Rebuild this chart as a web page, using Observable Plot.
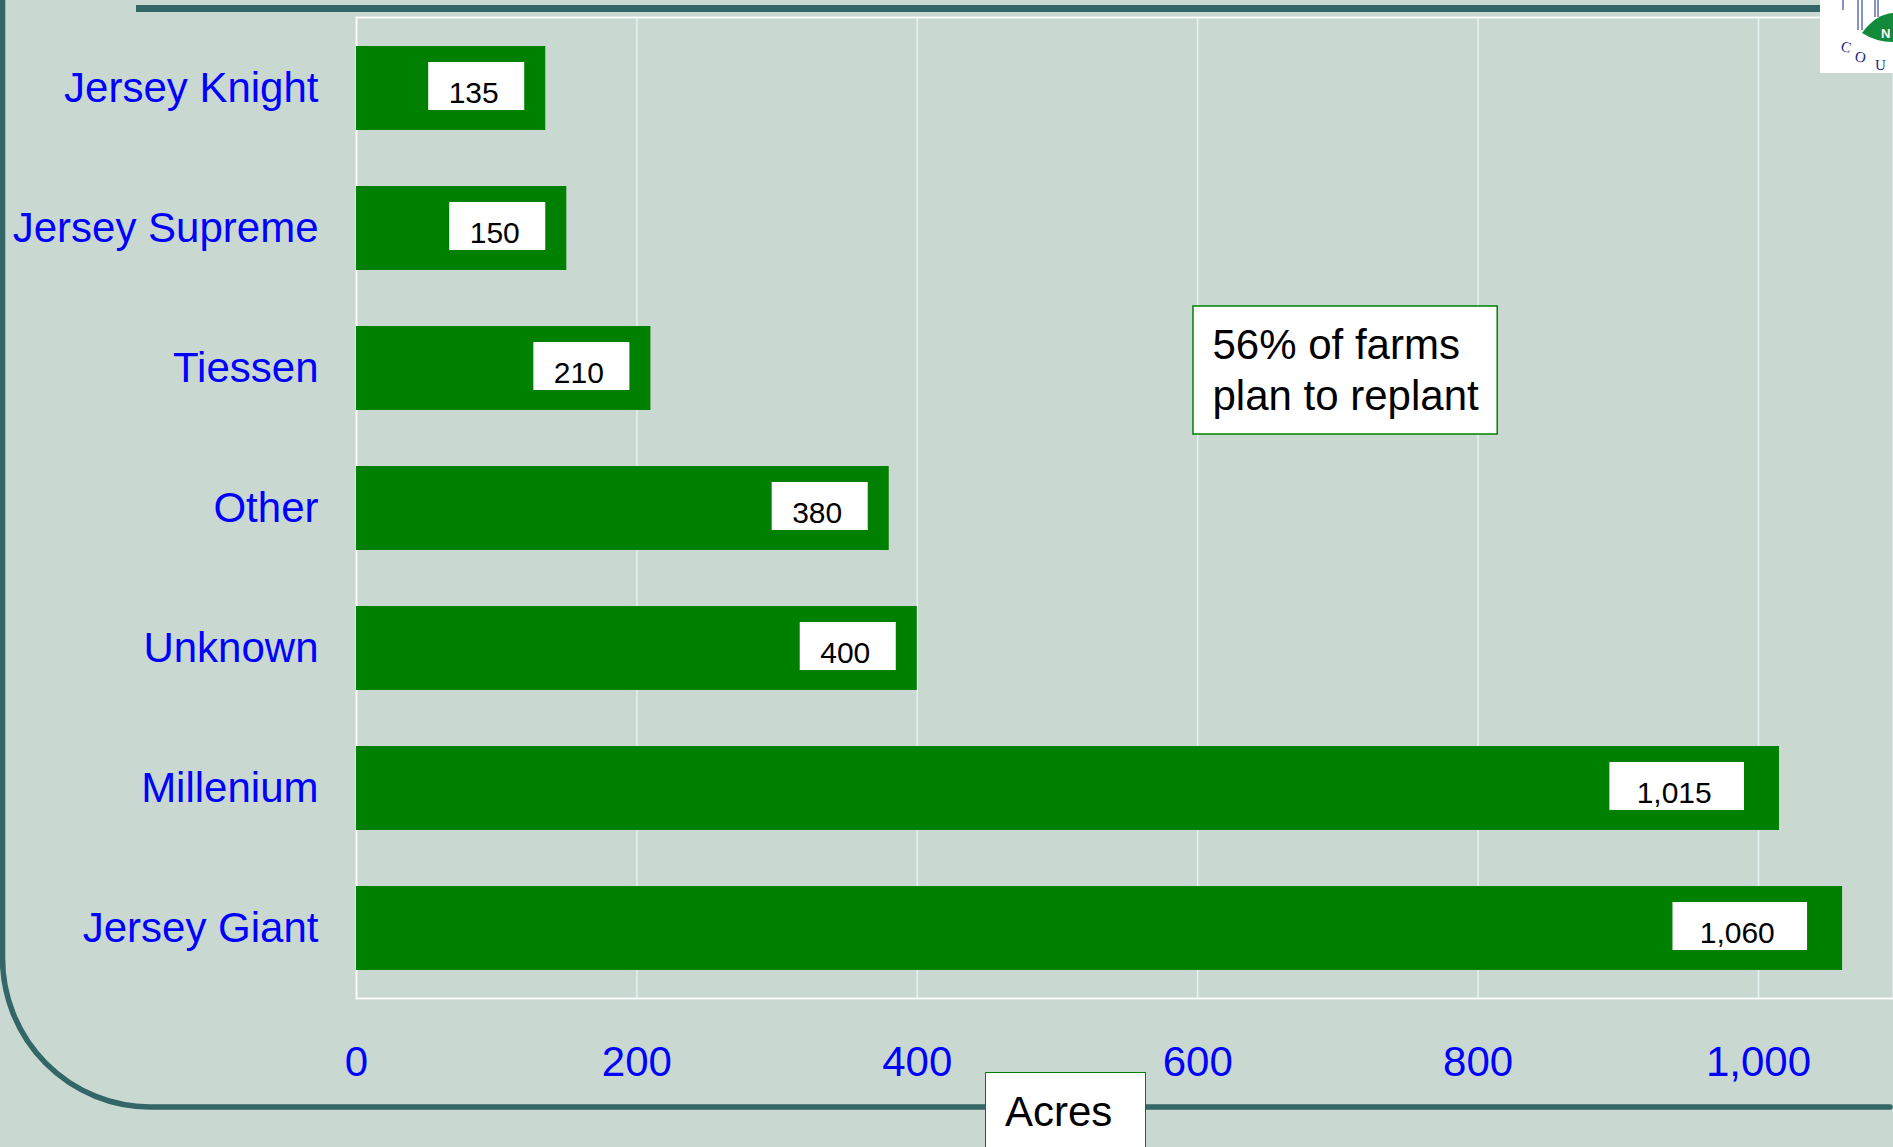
<!DOCTYPE html>
<html>
<head>
<meta charset="utf-8">
<script src="https://cdn.jsdelivr.net/npm/d3@7"></script>
<script src="https://cdn.jsdelivr.net/npm/@observablehq/plot@0.6"></script>
<style>
  html, body { margin: 0; padding: 0; background: #c9d9d2; overflow: hidden; }
  #stage { position: relative; width: 1893px; height: 1147px; font-family: "Liberation Sans", Arial, sans-serif; }
  #deco, #chart, #over { position: absolute; left: 0; top: 0; }
  #acres { position: absolute; left: 985px; top: 1072px; width: 161px; height: 90px; background: #fff;
           border: 1.5px solid #008000; box-sizing: border-box; font-size: 42px; color: #000;
           line-height: 1; }
  #acres span { position: absolute; left: 19px; top: 18px; }
</style>
</head>
<body>
<div id="stage">
  <svg id="deco" width="1893" height="1147">
    <path d="M136 8.5 H1820" stroke="#336666" stroke-width="7" fill="none"/>
    <path d="M2.5 0 V958 A148 149 0 0 0 150 1107 H1890" stroke="#336666" stroke-width="5.5" fill="none" stroke-linecap="round"/>
  </svg>
  <div id="chart"></div>
  <div id="acres"><span id="acresText"></span></div>
  <svg id="over" width="1893" height="80" style="pointer-events:none">
    <rect x="1820" y="0" width="73" height="73" fill="#fff"/>
    <g stroke="#6a78b8" stroke-width="1.6">
      <line x1="1843" y1="0" x2="1843" y2="10"/>
      <line x1="1858" y1="0" x2="1858" y2="30"/>
      <line x1="1862" y1="0" x2="1862" y2="30"/>
      <line x1="1875" y1="0" x2="1875" y2="17"/>
      <line x1="1878" y1="0" x2="1878" y2="17"/>
    </g>
    <path d="M1862 33 Q1876 14 1893 13 L1893 42 Q1876 42 1862 33 Z" fill="#12893b"/>
    <text x="1881" y="38" fill="#fff" font-size="13" font-weight="bold" font-family="Liberation Sans, Arial">N</text>
    <text x="1841" y="52" fill="#1a2a8c" font-size="15" font-family="Liberation Serif, serif" transform="rotate(15 1846 47)">C</text>
    <text x="1855" y="62" fill="#1a2a8c" font-size="15" font-family="Liberation Serif, serif" transform="rotate(10 1860 57)">O</text>
    <text x="1875" y="70" fill="#1a2a8c" font-size="15" font-family="Liberation Serif, serif">U</text>
  </svg>
</div>
<script>
// ---- data ----
const categories = ["Jersey Knight", "Jersey Supreme", "Tiessen", "Other", "Unknown", "Millenium", "Jersey Giant"];
const acres = [135, 150, 210, 380, 400, 1015, 1060];
const xTicks = [0, 200, 400, 600, 800, 1000];
const annotationLines = ["56% of farms", "plan to replant"];
const annotationRow = ["Tiessen"];
const annotationFrom = [597];
const annotationTo = [814];
const axisTitle = "Acres";

// ---- build table ----
const fmt = d3.format(",");
const rows = categories.map((name, i) => ({name, acres: acres[i], label: fmt(acres[i])}));
const note = annotationRow.map((r, i) => ({row: r, x1: annotationFrom[i], x2: annotationTo[i], text: annotationLines.join("\n")}));

// label box geometry (in acre units, derived from label length)
const boxW = d => d.label.length > 3 ? 96 : 68.5;
const boxGap = d => d.label.length > 3 ? 25 : 15;

const blue = "#0000ff";
const green = "#008000";

const chart = Plot.plot({
  width: 1893,
  height: 1147,
  marginTop: 17,
  marginBottom: 149,
  marginLeft: 356,
  marginRight: 0,
  style: {background: "transparent", fontFamily: "'Liberation Sans', Arial, sans-serif", fontSize: "42px", overflow: "visible"},
  x: {domain: [0, 1096.3]},
  y: {domain: categories, paddingInner: 0.4, paddingOuter: 0.2},
  marks: [
    Plot.gridX(xTicks.slice(1), {stroke: "#e3f3f1", strokeOpacity: 1, strokeWidth: 1.5}),
    Plot.frame({stroke: "#ffffff", strokeWidth: 1.8}),
    Plot.barX(rows, {x: "acres", y: "name", fill: green}),
    Plot.barX(rows, {
      x1: d => d.acres - boxGap(d) - boxW(d),
      x2: d => d.acres - boxGap(d),
      y: "name", fill: "#ffffff", insetTop: 16, insetBottom: 20
    }),
    Plot.text(rows, {
      x: d => d.acres - boxGap(d) - boxW(d) / 2,
      y: "name", text: "label", fill: "#000", fontSize: 30,
      textAnchor: "middle", dx: -3, dy: 5
    }),
    Plot.barX(note, {x1: "x1", x2: "x2", y: "row", fill: "#ffffff", stroke: green, strokeWidth: 1.5, insetTop: -20, insetBottom: -24}),
    Plot.text(note, {x: "x1", y: "row", text: "text", textAnchor: "start", dx: 19, dy: -0.5, fontSize: 42, lineHeight: 1.23, fill: "#000"}),
    Plot.axisX({ticks: xTicks, tickFormat: fmt, tickSize: 0, tickPadding: 48, fill: blue, fontSize: 42, label: null}),
    Plot.axisY({tickSize: 0, tickPadding: 38, fill: blue, fontSize: 42, label: null})
  ]
});
document.getElementById("chart").appendChild(chart);
document.getElementById("acresText").textContent = axisTitle;
</script>
</body>
</html>
